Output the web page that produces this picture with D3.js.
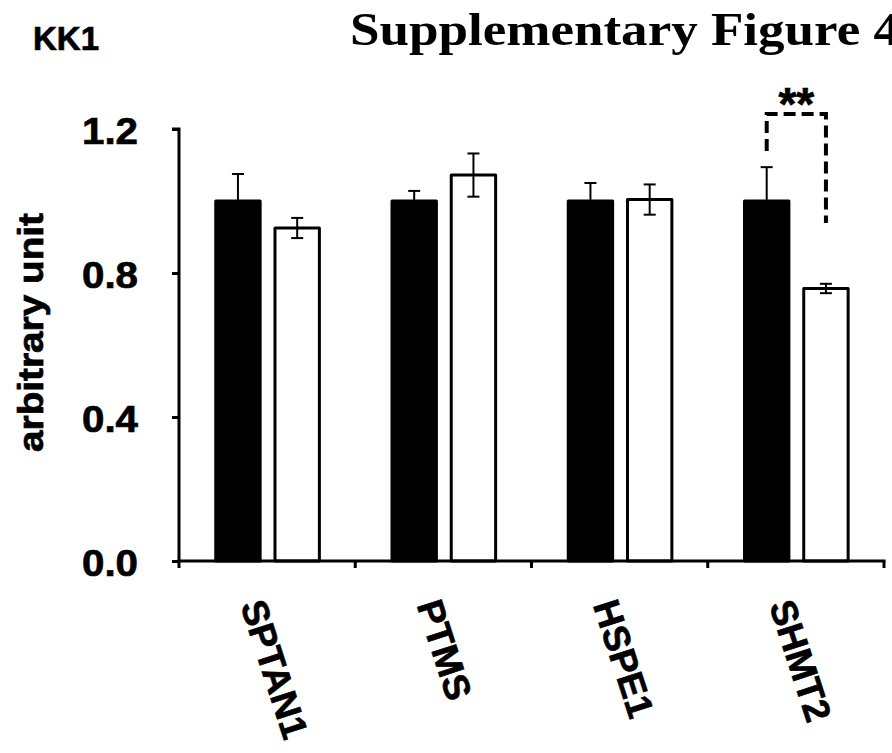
<!DOCTYPE html>
<html>
<head>
<meta charset="utf-8">
<script src="https://cdn.jsdelivr.net/npm/d3@7"></script>
<style>
  html, body { margin: 0; padding: 0; background: #fff; }
  svg { display: block; }
  .heavy { stroke: #000; stroke-width: 0.7px; }
</style>
</head>
<body>
<script>
// Relative expression, KK1 cells: control (black) vs treated (white)
const genes = ["SPTAN1", "PTMS", "HSPE1", "SHMT2"];
const groups = ["control", "treated"];
const controlMean = [1.0, 1.0, 1.0, 1.0];
const controlErr = [0.075, 0.028, 0.05, 0.094];
const treatedMean = [0.925, 1.072, 1.004, 0.757];
const treatedErr = [0.028, 0.06, 0.042, 0.013];
const yTicks = [0.0, 0.4, 0.8, 1.2];
const yTickLabels = ["0.0", "0.4", "0.8", "1.2"];
// significance bracket on SHMT2: top level, left leg end, right leg end
const bracketGene = "SHMT2";
const bracketLevels = [1.242, 1.139, 0.939];
const bracketMark = "**";

const W = 892, H = 753;
const svg = d3.select("body").append("svg").attr("width", W).attr("height", H);

const plotLeft = 179, plotRight = 884, plotTop = 129, plotBottom = 561;

const y = d3.scaleLinear().domain([0, 1.2]).range([plotBottom, plotTop]);
const x0 = d3.scaleBand().domain(genes).range([plotLeft, plotRight]).padding(0);
const x1 = d3.scaleBand().domain(groups)
  .range([x0.bandwidth() * 0.2, x0.bandwidth() * 0.805]).paddingInner(0.2).paddingOuter(0);

const sans = "'Liberation Sans', Arial, Helvetica, sans-serif";

const rows = genes.map((g, i) => ({
  gene: g,
  bars: [
    { group: "control", mean: controlMean[i], err: controlErr[i], fill: "#000" },
    { group: "treated", mean: treatedMean[i], err: treatedErr[i], fill: "#fff" }
  ]
}));

// bars
const sw = 3;
const gGene = svg.append("g").selectAll("g").data(rows).join("g")
  .attr("transform", d => `translate(${x0(d.gene)},0)`);

gGene.selectAll("rect").data(d => d.bars).join("rect")
  .attr("x", d => x1(d.group) + sw / 2)
  .attr("width", x1.bandwidth() - sw)
  .attr("y", d => y(d.mean))
  .attr("height", d => y(0) - y(d.mean))
  .attr("fill", d => d.fill)
  .attr("stroke", "#000")
  .attr("stroke-width", sw)
  .attr("stroke-linejoin", "round");

// error bars
const cap = 6;
const eb = gGene.selectAll("g.err").data(d => d.bars).join("g").attr("class", "err")
  .attr("stroke", "#000").attr("stroke-width", 2);
eb.append("line")
  .attr("x1", d => x1(d.group) + x1.bandwidth() / 2)
  .attr("x2", d => x1(d.group) + x1.bandwidth() / 2)
  .attr("y1", d => y(d.mean - d.err))
  .attr("y2", d => y(d.mean + d.err));
[1, -1].forEach(s => {
  eb.append("line")
    .attr("x1", d => x1(d.group) + x1.bandwidth() / 2 - cap)
    .attr("x2", d => x1(d.group) + x1.bandwidth() / 2 + cap)
    .attr("y1", d => y(d.mean + s * d.err))
    .attr("y2", d => y(d.mean + s * d.err));
});

// y axis
const yAxis = svg.append("g").attr("transform", `translate(${plotLeft},0)`)
  .call(d3.axisLeft(y).tickValues(yTicks).tickSize(7).tickFormat(""));
yAxis.select(".domain").attr("d", `M-7,${y(1.2)}H0V${y(0)}`);
yAxis.selectAll("path, line").attr("stroke", "#000").attr("stroke-width", 3);

svg.append("g").selectAll("text").data(yTicks).join("text")
  .attr("class", "heavy")
  .attr("x", 138)
  .attr("y", d => y(d) + 15)
  .attr("text-anchor", "end")
  .attr("font-family", sans)
  .attr("font-weight", "bold")
  .attr("font-size", 37)
  .attr("textLength", 56)
  .attr("lengthAdjust", "spacingAndGlyphs")
  .text((d, i) => yTickLabels[i]);

// x axis with ticks at category boundaries
const boundaries = genes.map(g => x0(g)).concat([plotRight]);
const xAxis = svg.append("g");
xAxis.append("line")
  .attr("x1", plotLeft - 1.5).attr("x2", plotRight + 1.5)
  .attr("y1", y(0)).attr("y2", y(0))
  .attr("stroke", "#000").attr("stroke-width", 3);
xAxis.selectAll("line.tk").data(boundaries).join("line").attr("class", "tk")
  .attr("x1", d => d).attr("x2", d => d)
  .attr("y1", y(0)).attr("y2", y(0) + 7)
  .attr("stroke", "#000").attr("stroke-width", 3);

// rotated category labels
svg.append("g").selectAll("text").data(genes).join("text")
  .attr("class", "heavy")
  .attr("transform", g => `translate(${x0(g) + x0.bandwidth() / 2 - 27},605) rotate(72)`)
  .attr("font-family", sans)
  .attr("font-weight", "bold")
  .attr("font-size", 37)
  .text(g => g);

// y axis title
svg.append("text")
  .attr("class", "heavy")
  .attr("transform", `translate(43,${(213 + 452) / 2}) rotate(-90)`)
  .attr("text-anchor", "middle")
  .attr("font-family", sans)
  .attr("font-weight", "bold")
  .attr("font-size", 35)
  .attr("textLength", 239)
  .attr("lengthAdjust", "spacingAndGlyphs")
  .text("arbitrary unit");

// significance bracket
const bxL = x0(bracketGene) + x1("control") + x1.bandwidth() / 2;
const bxR = x0(bracketGene) + x1("treated") + x1.bandwidth() / 2;
const [bTop, bLeft, bRight] = bracketLevels;
svg.append("path")
  .attr("d", `M${bxL},${y(bLeft)}V${y(bTop)}H${bxR}V${y(bRight)}`)
  .attr("fill", "none")
  .attr("stroke", "#000")
  .attr("stroke-width", 4)
  .attr("stroke-dasharray", "12,6");
svg.append("text")
  .attr("class", "heavy")
  .attr("x", (bxL + bxR) / 2)
  .attr("y", 120)
  .attr("text-anchor", "middle")
  .attr("font-family", sans)
  .attr("font-weight", "bold")
  .attr("font-size", 46)
  .text(bracketMark);

// panel label and figure title
svg.append("text")
  .attr("class", "heavy")
  .attr("x", 33).attr("y", 50)
  .attr("font-family", sans)
  .attr("font-weight", "bold")
  .attr("font-size", 33)
  .text("KK1");

svg.append("text")
  .attr("x", 350).attr("y", 45)
  .attr("font-family", "'Liberation Serif', 'Times New Roman', serif")
  .attr("font-weight", "bold")
  .attr("font-size", 46)
  .attr("textLength", 550)
  .attr("lengthAdjust", "spacingAndGlyphs")
  .text("Supplementary Figure 4");
</script>
</body>
</html>
